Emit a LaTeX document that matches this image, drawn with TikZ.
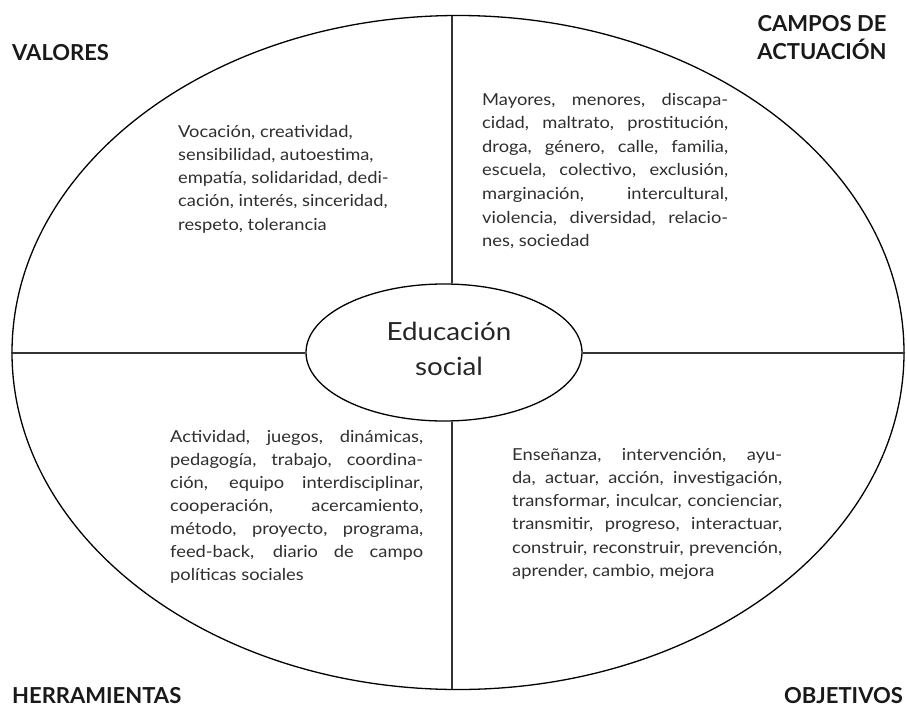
\documentclass[tikz,border=0pt]{standalone}
\usepackage{fontspec}
\setmainfont{Lato}
\newfontfamily\bodyfont{Lato}[FakeStretch=1.11]
\usetikzlibrary{shapes.geometric}
\newlength\blkw
\newcommand{\jl}[1]{\hbox to \blkw{#1}}
\newcommand{\nl}[1]{\hbox{#1}}
\begin{document}
\begin{tikzpicture}[x=1pt,y=-1pt]
\tikzset{
  ring/.style={draw=black, line width=1.3pt, ellipse, inner sep=0pt},
  divider/.style={draw=black!80, line width=2pt},
  title/.style={font=\fontsize{22}{28}\selectfont\bfseries, inner sep=0pt, text=black!90},
  body/.style={font=\bodyfont\fontsize{16.5}{23}\selectfont, inner sep=0pt, text=black!82},
  hubtext/.style={font=\bodyfont\fontsize{25}{35}\selectfont, inner sep=0pt, text=black!85},
}
\useasboundingbox (0,0) rectangle (907,709);
\node[ring, minimum width=892pt, minimum height=674pt] (big) at (458,352.5) {};
\node[ring, minimum width=276pt, minimum height=137pt] (hub) at (444,352.5) {};
\node[hubtext, anchor=base] (hublbl) at (449,340) {\vtop{\baselineskip=35pt\halign{\hfil#\hfil\cr Educación\cr social\cr}}};
\coordinate (vtop) at (452,16.2);
\coordinate (vbot) at (452,688.8);
\draw[divider] (vtop) -- (vtop |- hub.north);
\draw[divider] (vbot) -- (vbot |- hub.south);
\draw[divider] (big.west) -- (hub.west);
\draw[divider] (hub.east) -- (big.east);
% titles
\node[title, anchor=base west] (valores) at (12,60) {VALORES};
\node[title, anchor=base] (campos) at (822,32) {\vtop{\baselineskip=28pt\halign{\hfil#\hfil\cr CAMPOS DE\cr ACTUACIÓN\cr}}};
\node[title, anchor=base west] (herr) at (12,703) {HERRAMIENTAS};
\node[title, anchor=base east] (obj) at (903,703) {OBJETIVOS};
% quadrant texts
\node[body, anchor=base west] (tl) at (178,137) {\setlength\blkw{218pt}\vtop{\baselineskip=23.3pt
  \nl{Vocación, creatividad,}
  \nl{sensibilidad, autoestima,}
  \nl{empatía, solidaridad, dedi-}
  \nl{cación, interés, sinceridad,}
  \nl{respeto, tolerancia}}};
\node[body, anchor=base west] (tr) at (482,105) {\setlength\blkw{246pt}\vtop{\baselineskip=23.6pt
  \jl{Mayores, menores, discapa-}
  \jl{cidad, maltrato, prostitución,}
  \jl{droga, género, calle, familia,}
  \jl{escuela, colectivo, exclusión,}
  \jl{marginación, intercultural,}
  \jl{violencia, diversidad, relacio-}
  \nl{nes, sociedad}}};
\node[body, anchor=base west] (bl) at (170,442) {\setlength\blkw{253pt}\vtop{\baselineskip=23pt
  \jl{Actividad, juegos, dinámicas,}
  \jl{pedagogía, trabajo, coordina-}
  \jl{ción, equipo interdisciplinar,}
  \jl{cooperación, acercamiento,}
  \jl{método, proyecto, programa,}
  \jl{feed-back, diario de campo}
  \nl{políticas sociales}}};
\node[body, anchor=base west] (br) at (512,460) {\setlength\blkw{270pt}\vtop{\baselineskip=23.3pt
  \jl{Enseñanza, intervención, ayu-}
  \jl{da, actuar, acción, investigación,}
  \jl{transformar, inculcar, concienciar,}
  \jl{transmitir, progreso, interactuar,}
  \jl{construir, reconstruir, prevención,}
  \nl{aprender, cambio, mejora}}};
\end{tikzpicture}
\end{document}
